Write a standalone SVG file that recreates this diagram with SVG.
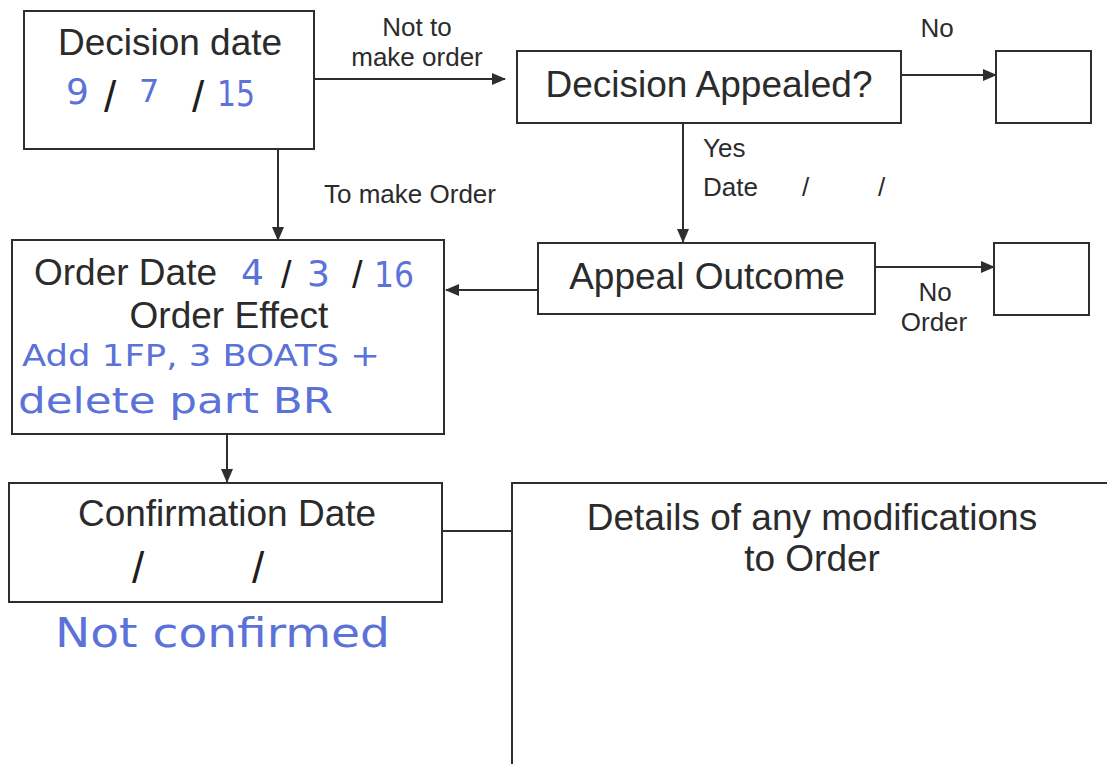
<svg xmlns="http://www.w3.org/2000/svg" width="1107" height="764" viewBox="0 0 1107 764">
  <style>
    .box { fill: #ffffff; stroke: #2e2e2e; stroke-width: 2; }
    .big { font-family: "Liberation Sans", Arial, sans-serif; font-size: 37px; fill: #2b2b2b; }
    .lbl { font-family: "Liberation Sans", Arial, sans-serif; font-size: 26px; fill: #2b2b2b; }
    .slash { font-family: "Liberation Sans", Arial, sans-serif; fill: #1e1e1e; }
    .hand { font-family: "DejaVu Sans", "Liberation Sans", sans-serif; fill: #5b72d9; }
    .conn { stroke: #2e2e2e; stroke-width: 2; fill: none; }
  </style>
  <defs>
    <marker id="arrow" markerUnits="userSpaceOnUse" markerWidth="14" markerHeight="12" refX="13" refY="6" orient="auto">
      <path d="M0,0 L14,6 L0,12 Z" fill="#2e2e2e"/>
    </marker>
  </defs>
  <rect x="0" y="0" width="1107" height="764" fill="#ffffff"/>

  <g id="connectors">
    <line class="conn" x1="314" y1="79" x2="505" y2="79" marker-end="url(#arrow)"/>
    <line class="conn" x1="901" y1="75" x2="996" y2="75" marker-end="url(#arrow)"/>
    <line class="conn" x1="683" y1="123" x2="683" y2="242" marker-end="url(#arrow)"/>
    <line class="conn" x1="278" y1="149" x2="278" y2="240" marker-end="url(#arrow)"/>
    <line class="conn" x1="538" y1="290" x2="446" y2="290" marker-end="url(#arrow)"/>
    <line class="conn" x1="875" y1="267" x2="994" y2="267" marker-end="url(#arrow)"/>
    <line class="conn" x1="227" y1="434" x2="227" y2="482" marker-end="url(#arrow)"/>
    <line class="conn" x1="442" y1="531" x2="512" y2="531"/>
    <text class="lbl" x="417" y="36" text-anchor="middle">Not to</text>
    <text class="lbl" x="417" y="66" text-anchor="middle">make order</text>
    <text class="lbl" x="937" y="37" text-anchor="middle">No</text>
    <text class="lbl" x="703" y="157">Yes</text>
    <text class="lbl" x="703" y="196">Date</text>
    <text class="lbl" x="802" y="196">/</text>
    <text class="lbl" x="878" y="196">/</text>
    <text class="lbl" x="410" y="203" text-anchor="middle">To make Order</text>
    <text class="lbl" x="935" y="301" text-anchor="middle">No</text>
    <text class="lbl" x="934" y="331" text-anchor="middle">Order</text>
  </g>

  <g id="decision-date">
    <rect class="box" x="24" y="11" width="290" height="138"/>
    <text class="big" x="170" y="55" text-anchor="middle">Decision date</text>
    <text class="hand" x="66" y="104" font-size="36">9</text>
    <text class="slash" x="104" y="112" font-size="44">/</text>
    <text class="hand" x="139" y="102" font-size="32">7</text>
    <text class="slash" x="192" y="112" font-size="44">/</text>
    <text class="hand" x="217" y="106" font-size="36" textLength="38" lengthAdjust="spacingAndGlyphs">15</text>
  </g>

  <g id="decision-appealed">
    <rect class="box" x="517" y="51" width="384" height="72"/>
    <text class="big" x="709" y="97" text-anchor="middle">Decision Appealed?</text>
  </g>

  <g id="no-appeal-box">
    <rect class="box" x="996" y="51" width="95" height="72"/>
  </g>

  <g id="appeal-outcome">
    <rect class="box" x="538" y="243" width="337" height="71"/>
    <text class="big" x="707" y="289" text-anchor="middle">Appeal Outcome</text>
  </g>

  <g id="no-order-box">
    <rect class="box" x="994" y="243" width="95" height="72"/>
  </g>

  <g id="order-date">
    <rect class="box" x="12" y="240" width="432" height="194"/>
    <text class="big" x="34" y="285">Order Date</text>
    <text class="hand" x="241" y="285" font-size="36">4</text>
    <text class="slash" x="281" y="288" font-size="38">/</text>
    <text class="hand" x="307" y="286" font-size="36">3</text>
    <text class="slash" x="352" y="288" font-size="38">/</text>
    <text class="hand" x="374" y="287" font-size="36" textLength="40" lengthAdjust="spacingAndGlyphs">16</text>
    <text class="big" x="229" y="328" text-anchor="middle">Order Effect</text>
    <text class="hand" x="22" y="366" font-size="30" textLength="358" lengthAdjust="spacingAndGlyphs">Add 1FP, 3 BOATS +</text>
    <text class="hand" x="18" y="413" font-size="36" textLength="315" lengthAdjust="spacingAndGlyphs">delete part BR</text>
  </g>

  <g id="confirmation-date">
    <rect class="box" x="9" y="483" width="433" height="119"/>
    <text class="big" x="227" y="526" text-anchor="middle">Confirmation Date</text>
    <text class="slash" x="132" y="583" font-size="44">/</text>
    <text class="slash" x="252" y="583" font-size="44">/</text>
  </g>

  <g id="not-confirmed">
    <text class="hand" x="55" y="647" font-size="40" textLength="335" lengthAdjust="spacingAndGlyphs">Not confirmed</text>
  </g>

  <g id="modifications">
    <path class="box" d="M512,764 L512,483 L1107,483"/>
    <text class="big" x="812" y="530" text-anchor="middle">Details of any modifications</text>
    <text class="big" x="812" y="571" text-anchor="middle">to Order</text>
  </g>
</svg>
